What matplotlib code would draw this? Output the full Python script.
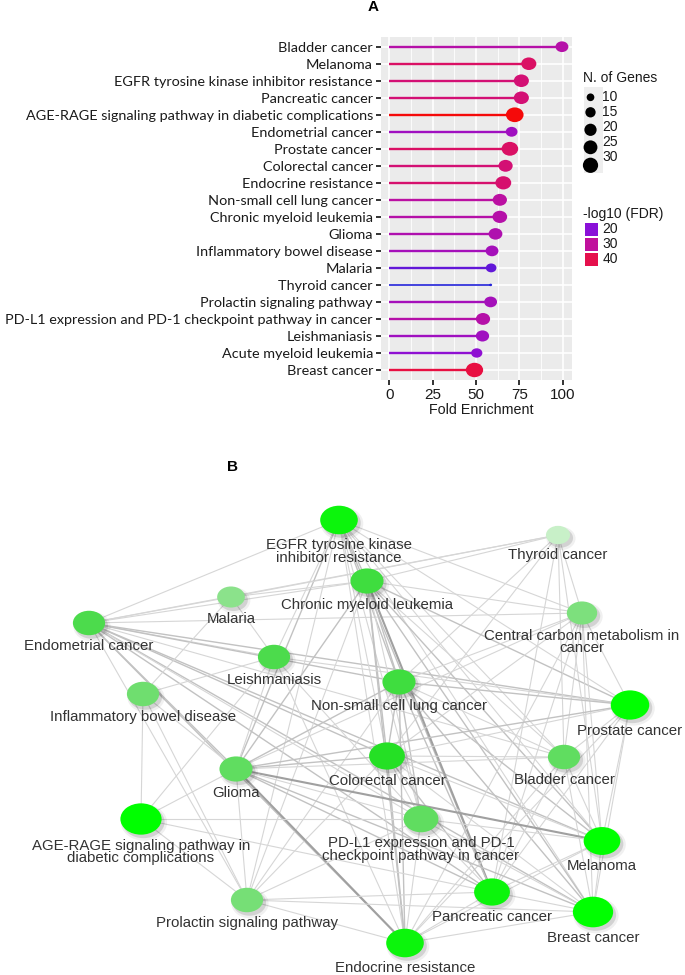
import matplotlib
matplotlib.use('Agg')
import matplotlib.pyplot as plt
import numpy as np
from matplotlib.colors import LinearSegmentedColormap, Normalize
from matplotlib.patches import Ellipse, Rectangle
from matplotlib.path import Path

plt.rcParams['font.family'] = ['Liberation Sans', 'DejaVu Sans']

# ---------------- panel A data (KEGG enrichment) ----------------
pathways = ['Bladder cancer', 'Melanoma', 'EGFR tyrosine kinase inhibitor resistance',
            'Pancreatic cancer', 'AGE-RAGE signaling pathway in diabetic complications',
            'Endometrial cancer', 'Prostate cancer', 'Colorectal cancer', 'Endocrine resistance',
            'Non-small cell lung cancer', 'Chronic myeloid leukemia', 'Glioma',
            'Inflammatory bowel disease', 'Malaria', 'Thyroid cancer', 'Prolactin signaling pathway',
            'PD-L1 expression and PD-1 checkpoint pathway in cancer', 'Leishmaniasis',
            'Acute myeloid leukemia', 'Breast cancer']
fold_enrichment = [99.5, 80.4, 76.1, 76.1, 72.3, 70.5, 69.5, 67.0, 65.7, 63.7,
                   63.7, 61.2, 59.2, 58.7, 58.4, 58.4, 54.0, 53.7, 50.4, 49.1]
n_genes = [16, 21, 21, 21, 28, 14, 25, 19, 23, 19, 20, 18, 16, 12, 6, 16, 19, 17, 13, 27]
log_fdr = [28, 37, 35, 35, 46, 24, 37, 35, 36, 29, 28, 27, 25, 17, 12, 25, 28, 24, 21, 41]
x_ticks = [0, 25, 50, 75, 100]
size_breaks = [10, 15, 20, 25, 30]
color_breaks = [20, 30, 40]

# ---------------- panel B data (pathway network) ----------------
b_nodes = ['egfr', 'thy', 'cml', 'mal', 'ccm', 'endo', 'lei', 'ibd', 'nsclc', 'pros',
           'crc', 'blad', 'gli', 'age', 'pdl1', 'mel', 'prl', 'panc', 'brca', 'endr']
b_labels = ['EGFR tyrosine kinase\ninhibitor resistance', 'Thyroid cancer',
            'Chronic myeloid leukemia', 'Malaria', 'Central carbon metabolism in\ncancer',
            'Endometrial cancer', 'Leishmaniasis', 'Inflammatory bowel disease',
            'Non-small cell lung cancer', 'Prostate cancer', 'Colorectal cancer',
            'Bladder cancer', 'Glioma', 'AGE-RAGE signaling pathway in\ndiabetic complications',
            'PD-L1 expression and PD-1\ncheckpoint pathway in cancer', 'Melanoma',
            'Prolactin signaling pathway', 'Pancreatic cancer', 'Breast cancer',
            'Endocrine resistance']
b_genes = [24, 9, 19, 13, 16, 18, 18, 18, 19, 25, 22, 18, 19, 28, 21, 23, 18, 22, 27, 24]
b_fdr = [40, 12, 32, 21, 23, 30, 30, 25, 32, 42, 36, 27, 27, 46, 27, 42, 24, 40, 44, 40]
# edges: (node, node, strength 1..3)
b_edges = [
    ('endo', 'egfr', 1), ('endo', 'thy', 1), ('endo', 'mal', 1), ('endo', 'cml', 1),
    ('endo', 'ccm', 1), ('endo', 'lei', 1), ('endo', 'nsclc', 2), ('endo', 'pros', 2),
    ('endo', 'crc', 2), ('endo', 'blad', 1), ('endo', 'gli', 2), ('endo', 'mel', 2),
    ('endo', 'panc', 2), ('endo', 'brca', 2), ('endo', 'endr', 2), ('endo', 'prl', 1),
    ('endo', 'pdl1', 1),
    ('egfr', 'cml', 2), ('egfr', 'nsclc', 2), ('egfr', 'crc', 1), ('egfr', 'gli', 2),
    ('egfr', 'pdl1', 1), ('egfr', 'panc', 2), ('egfr', 'endr', 1), ('egfr', 'brca', 1),
    ('egfr', 'mel', 1), ('egfr', 'pros', 1), ('egfr', 'ccm', 1), ('egfr', 'blad', 1),
    ('egfr', 'lei', 1), ('egfr', 'prl', 1),
    ('thy', 'mal', 1), ('thy', 'cml', 1), ('thy', 'ccm', 1), ('thy', 'blad', 1),
    ('thy', 'nsclc', 1), ('thy', 'crc', 1), ('thy', 'mel', 1), ('thy', 'panc', 1),
    ('cml', 'mal', 1), ('cml', 'ccm', 1), ('cml', 'nsclc', 2), ('cml', 'crc', 2),
    ('cml', 'gli', 2), ('cml', 'panc', 3), ('cml', 'endr', 2), ('cml', 'brca', 2),
    ('cml', 'mel', 2), ('cml', 'pros', 2), ('cml', 'blad', 1), ('cml', 'pdl1', 1),
    ('cml', 'prl', 1),
    ('mal', 'ibd', 1), ('mal', 'lei', 1),
    ('ccm', 'nsclc', 1), ('ccm', 'pros', 1), ('ccm', 'crc', 1), ('ccm', 'blad', 1),
    ('ccm', 'panc', 1), ('ccm', 'mel', 1), ('ccm', 'brca', 1), ('ccm', 'gli', 1),
    ('ccm', 'endr', 1),
    ('lei', 'ibd', 1), ('lei', 'pros', 1), ('lei', 'gli', 1), ('lei', 'pdl1', 1),
    ('lei', 'age', 1), ('lei', 'endr', 1),
    ('ibd', 'age', 1), ('ibd', 'prl', 1), ('ibd', 'gli', 1),
    ('nsclc', 'pros', 2), ('nsclc', 'crc', 2), ('nsclc', 'blad', 1), ('nsclc', 'gli', 2),
    ('nsclc', 'mel', 2), ('nsclc', 'panc', 2), ('nsclc', 'brca', 2), ('nsclc', 'endr', 2),
    ('nsclc', 'pdl1', 2), ('nsclc', 'prl', 1),
    ('pros', 'crc', 1), ('pros', 'gli', 2), ('pros', 'blad', 1), ('pros', 'mel', 1),
    ('pros', 'brca', 1), ('pros', 'panc', 1), ('pros', 'endr', 1),
    ('crc', 'blad', 1), ('crc', 'gli', 2), ('crc', 'mel', 1), ('crc', 'panc', 2),
    ('crc', 'brca', 1), ('crc', 'endr', 2), ('crc', 'pdl1', 1), ('crc', 'prl', 1),
    ('blad', 'gli', 1), ('blad', 'mel', 1), ('blad', 'panc', 1), ('blad', 'brca', 1),
    ('blad', 'endr', 1),
    ('gli', 'mel', 3), ('gli', 'endr', 3), ('gli', 'age', 1), ('gli', 'pdl1', 1),
    ('gli', 'panc', 2), ('gli', 'brca', 2), ('gli', 'prl', 1),
    ('age', 'pdl1', 1), ('age', 'prl', 1), ('age', 'panc', 1),
    ('pdl1', 'panc', 1), ('pdl1', 'mel', 1), ('pdl1', 'brca', 1), ('pdl1', 'endr', 1),
    ('pdl1', 'prl', 1),
    ('mel', 'panc', 1), ('mel', 'brca', 1), ('mel', 'endr', 1),
    ('prl', 'panc', 1), ('prl', 'endr', 1), ('prl', 'brca', 1),
    ('panc', 'brca', 1), ('panc', 'endr', 1), ('brca', 'endr', 1),
]

# network layout in figure pixels (x right, y down)
layout = {
    'egfr': (339, 520), 'thy': (558, 535), 'cml': (367, 581), 'mal': (231, 597),
    'ccm': (582, 613), 'endo': (89, 623), 'lei': (274, 657), 'ibd': (143, 694),
    'nsclc': (399, 682), 'pros': (630, 705), 'crc': (387, 756), 'blad': (564, 757),
    'gli': (236, 769), 'age': (141, 819), 'pdl1': (421, 819), 'mel': (602, 841),
    'prl': (247, 900), 'panc': (492, 892), 'brca': (593, 912), 'endr': (405, 943),
}

W, H = 685, 975
fig = plt.figure(figsize=(W / 100, H / 100), dpi=100)
fig.patch.set_facecolor('white')


def px_to_pt(d):
    return d * 72 / 100


def dot_diam(g):
    # height of a dot in pixels, ggplot-like area scale
    return 2.5 + 13 * np.sqrt((np.asarray(g, dtype=float) - 6) / 25)


cmap_a = LinearSegmentedColormap.from_list(
    'fdr', [(0, '#2222D8'), (0.235, '#8A10D8'), (0.53, '#C0109C'),
            (0.82, '#E5104E'), (1, '#F50A0A')])
norm_a = Normalize(12, 46)

# ---------------- panel A ----------------
left, right, top, bottom = 380.6, 571.5, 36.5, 380.2
ax = fig.add_axes([left / W, 1 - bottom / H, (right - left) / W, (bottom - top) / H])
ax.set_facecolor('#EBEBEB')
ypos = np.arange(len(pathways))
ax.set_xlim(-5, 105)
ax.set_ylim(len(pathways) - 0.4, -0.6)
for xm in [12.5, 37.5, 62.5, 87.5]:
    ax.axvline(xm, color='white', lw=0.6, zorder=0)
for xm in x_ticks:
    ax.axvline(xm, color='white', lw=1.2, zorder=0)
for yy in ypos:
    ax.axhline(yy, color='white', lw=1.2, zorder=0)

cols = cmap_a(norm_a(log_fdr))
diam = dot_diam(n_genes)
seg_lw = np.where(diam < 5, 1.2, 1.7)
ax.hlines(ypos, 0, fold_enrichment, colors=cols, lw=seg_lw, zorder=2)

circ = Path.unit_circle()
ell_marker = Path(circ.vertices * [1.2, 1.0], circ.codes)
ax.scatter(fold_enrichment, ypos, s=px_to_pt(diam * 1.2) ** 2, c=cols,
           marker=ell_marker, linewidths=0, zorder=3)

ax.set_xticks(x_ticks)
ax.set_xticklabels([str(t) for t in x_ticks], fontsize=11, color='#1a1a1a')
ax.set_yticks(ypos)
ax.set_yticklabels(pathways, fontsize=10.4, color='#1a1a1a', family=['Lato', 'DejaVu Sans'])
ax.tick_params(axis='both', length=3.5, width=1.4, color='#333333', pad=2)
for s in ax.spines.values():
    s.set_visible(False)

# overlay axes in pixel coordinates for legends and panel B
ov = fig.add_axes([0, 0, 1, 1], zorder=5)
ov.set_xlim(0, W)
ov.set_ylim(H, 0)
ov.axis('off')
ov.patch.set_alpha(0)

ov.text(373, 7, 'A', fontsize=11, fontweight='bold', ha='center', va='center')
ov.text(481, 410, 'Fold Enrichment', fontsize=10.3, ha='center', va='center', color='#1a1a1a')

# size legend
ov.text(583.5, 78.5, 'N. of Genes', fontsize=10, ha='left', va='center', color='#1a1a1a')
ov.add_patch(Rectangle((584, 87), 19, 86, facecolor='#EEEEEE', edgecolor='none'))
key_y = 97.3 + np.cumsum([0, 15, 17.5, 17.5, 18])
ov.scatter([590.5] * len(size_breaks), key_y, s=px_to_pt(dot_diam(size_breaks)) ** 2,
           color='black', linewidths=0)
for i, b in enumerate(size_breaks):
    ov.text(602.5, 97.3 + 15 * i, str(b), fontsize=10, ha='left', va='center', color='#1a1a1a')

# colour legend
ov.text(583.5, 214, '-log10 (FDR)', fontsize=10, ha='left', va='center', color='#1a1a1a')
for i, b in enumerate(color_breaks):
    yc = 229.3 + 15 * i
    ov.add_patch(Rectangle((585, yc - 6.5), 13.5, 13, facecolor=cmap_a(norm_a(b)),
                           edgecolor='none'))
    ov.text(602.5, yc, str(b), fontsize=10, ha='left', va='center', color='#1a1a1a')

# ---------------- panel B ----------------
ov.text(233, 467, 'B', fontsize=11, fontweight='bold', ha='center', va='center')

edge_style = {1: ('#D6D6D6', 0.8), 2: ('#C2C2C2', 1.0), 3: ('#A0A0A0', 1.5)}
for a, b, w in b_edges:
    (x1, y1), (x2, y2) = layout[a], layout[b]
    c, lw = edge_style[w]
    ov.plot([x1, x2], [y1, y2], color=c, lw=lw, zorder=1, solid_capstyle='round')

cmap_b = LinearSegmentedColormap.from_list(
    'green', [(0, '#C8F0C8'), (0.35, '#80E080'), (0.6, '#4CDB4C'),
              (0.8, '#25E025'), (1, '#00FF00')])
norm_b = Normalize(12, 42, clip=True)

for name, lab, g, f in zip(b_nodes, b_labels, b_genes, b_fdr):
    x, y = layout[name]
    w = 16 + 0.9 * g
    h = w * 0.76
    # soft drop shadow
    ov.add_patch(Ellipse((x + 3, y + 3.5), w + 5, h + 5, facecolor='black', alpha=0.06,
                         edgecolor='none', zorder=2))
    ov.add_patch(Ellipse((x + 2.5, y + 3), w + 1, h + 1, facecolor='black', alpha=0.12,
                         edgecolor='none', zorder=2))
    ov.add_patch(Ellipse((x, y), w, h, facecolor=cmap_b(norm_b(f)), edgecolor='none',
                         zorder=3))
    ov.text(x, y + h / 2 + 4, lab, fontsize=10.8, ha='center', va='top', color='#333333',
            linespacing=0.85, zorder=4)

fig.savefig('out.png', dpi=100, facecolor='white')
